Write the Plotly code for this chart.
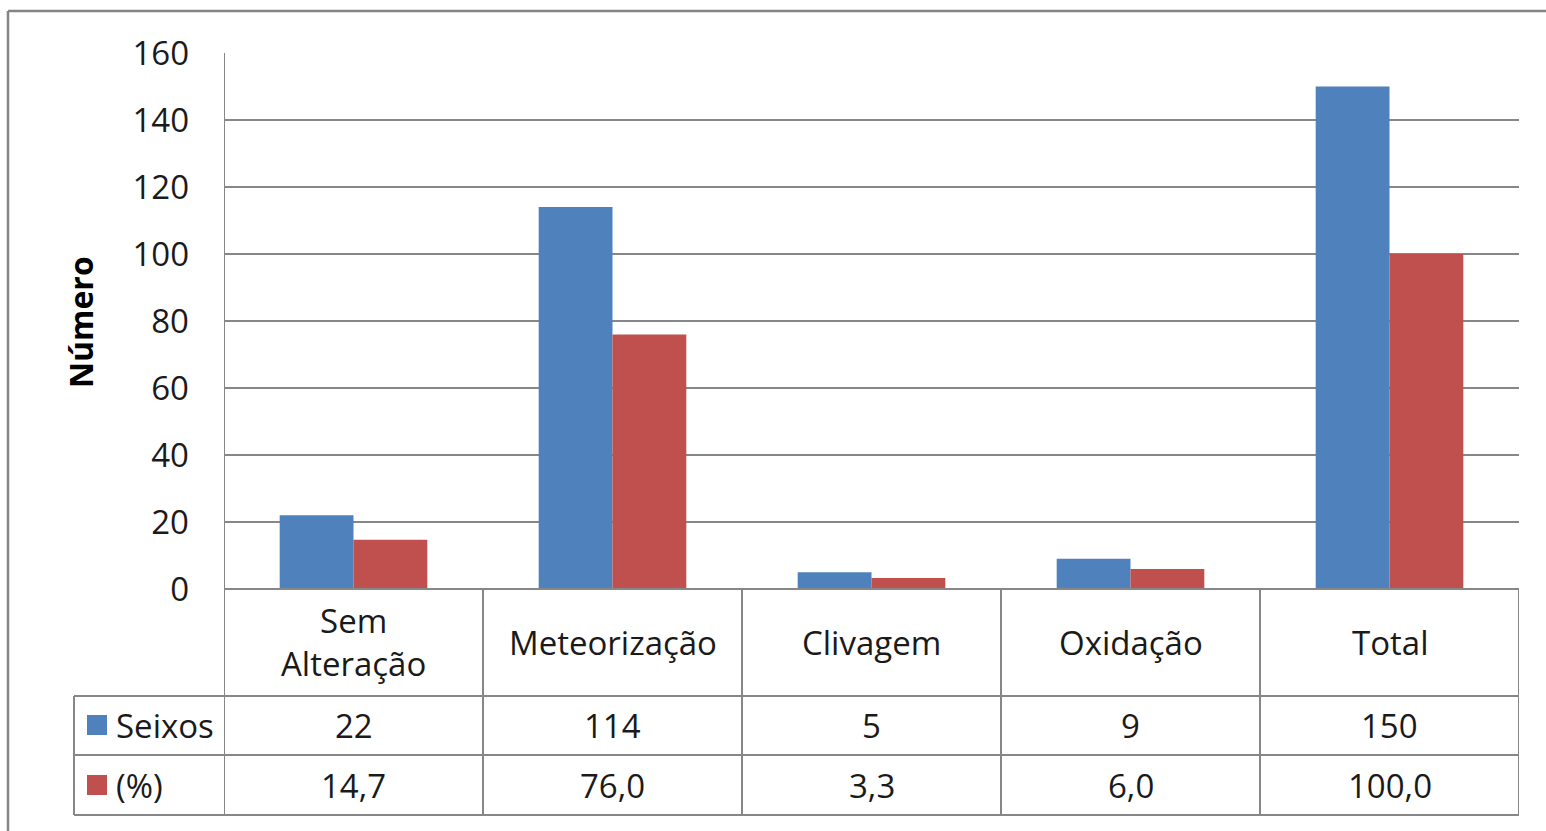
import plotly.graph_objects as go

# Chart data
categories = ["Sem Alteração", "Meteorização", "Clivagem", "Oxidação", "Total"]
header_labels = ["Sem<br>Alteração", "Meteorização", "Clivagem", "Oxidação", "Total"]
seixos = [22, 114, 5, 9, 150]
percent = [14.7, 76.0, 3.3, 6.0, 100.0]
series_names = ["Seixos", "(%)"]
y_ticks = [0, 20, 40, 60, 80, 100, 120, 140, 160]

BLUE = "#4F81BD"
RED = "#C0504D"
GRID = "#878787"
FONT = "Open Sans"
TXT = 33

W, H = 1546, 831
L, R, T, B = 224, 27, 53, 242
plot_w = W - L - R
plot_h = H - T - B


def py(px):
    """Convert a pixel row to paper y."""
    return (H - B - px) / plot_h


def pxx(px):
    """Convert a pixel column to paper x."""
    return (px - L) / plot_w


def fmt_pt(v):
    return f"{v:.1f}".replace(".", ",")


fig = go.Figure()
fig.add_trace(go.Bar(x=categories, y=seixos, name=series_names[0],
                     marker=dict(color=BLUE, line=dict(width=0))))
fig.add_trace(go.Bar(x=categories, y=percent, name=series_names[1],
                     marker=dict(color=RED, line=dict(width=0))))

shapes = []
annotations = []
line_style = dict(color=GRID, width=2)

# Data table below the plot: row boundaries in pixels
row_top, row_hdr, row_mid, row_bot = 589, 696, 755, 815
left_col = 74

# horizontal lines of the table
shapes.append(dict(type="line", xref="paper", yref="paper", x0=0, x1=1,
                   y0=py(row_top), y1=py(row_top), line=line_style))
for yy in (row_hdr, row_mid, row_bot):
    shapes.append(dict(type="line", xref="paper", yref="paper", x0=pxx(left_col), x1=1,
                       y0=py(yy), y1=py(yy), line=line_style))
# vertical lines between categories
for i in range(len(categories) + 1):
    shapes.append(dict(type="line", xref="x", yref="paper", x0=i - 0.5, x1=i - 0.5,
                       y0=py(row_top) if i > 0 else 1, y1=py(row_bot), line=line_style))
# left edge of the legend column
shapes.append(dict(type="line", xref="paper", yref="paper", x0=pxx(left_col), x1=pxx(left_col),
                   y0=py(row_hdr), y1=py(row_bot), line=line_style))

# legend keys in the table
for color, yc in ((BLUE, 725), (RED, 785)):
    shapes.append(dict(type="rect", xref="paper", yref="paper",
                       x0=pxx(87), x1=pxx(107), y0=py(yc - 10), y1=py(yc + 10),
                       fillcolor=color, line=dict(width=0)))
for name, yc in zip(series_names, (725, 785)):
    annotations.append(dict(text=name, xref="paper", yref="paper", x=pxx(114), y=py(yc),
                            xanchor="left", yanchor="middle", showarrow=False,
                            font=dict(family=FONT, size=TXT, color="#1a1a1a")))

# category header and values
for i, lab in enumerate(header_labels):
    annotations.append(dict(text=lab, xref="x", yref="paper", x=i, y=py(642),
                            xanchor="center", yanchor="middle", showarrow=False,
                            font=dict(family=FONT, size=TXT, color="#1a1a1a")))
    annotations.append(dict(text=str(seixos[i]), xref="x", yref="paper", x=i, y=py(725),
                            xanchor="center", yanchor="middle", showarrow=False,
                            font=dict(family=FONT, size=TXT, color="#1a1a1a")))
    annotations.append(dict(text=fmt_pt(percent[i]), xref="x", yref="paper", x=i, y=py(785),
                            xanchor="center", yanchor="middle", showarrow=False,
                            font=dict(family=FONT, size=TXT, color="#1a1a1a")))

# axis title
annotations.append(dict(text="<b>Número</b>", xref="paper", yref="paper", x=pxx(80), y=py(322),
                        xanchor="center", yanchor="middle", textangle=-90, showarrow=False,
                        font=dict(family=FONT, size=32, color="#000000")))

# outer chart frame
shapes.append(dict(type="line", xref="paper", yref="paper", x0=pxx(8), x1=pxx(W + 5),
                   y0=py(11), y1=py(11), line=dict(color="#858585", width=2.5)))
shapes.append(dict(type="line", xref="paper", yref="paper", x0=pxx(8), x1=pxx(8),
                   y0=py(11), y1=py(H + 5), line=dict(color="#858585", width=2.5)))

fig.update_layout(
    width=W, height=H,
    margin=dict(l=L, r=R, t=T, b=B),
    paper_bgcolor="white", plot_bgcolor="white",
    barmode="group", bargap=0.43, bargroupgap=0,
    showlegend=False,
    font=dict(family=FONT, size=TXT, color="#1a1a1a"),
    shapes=shapes, annotations=annotations,
    xaxis=dict(showticklabels=False, showgrid=False, zeroline=False, showline=False,
               ticks="", range=[-0.5, len(categories) - 0.5]),
    yaxis=dict(range=[0, 160], tickvals=y_ticks, showgrid=True, gridcolor=GRID, gridwidth=2,
               zeroline=False, showline=False, ticks="", ticklabelstandoff=34,
               tickfont=dict(family=FONT, size=TXT, color="#1a1a1a")),
)

fig.write_html("out.html")
